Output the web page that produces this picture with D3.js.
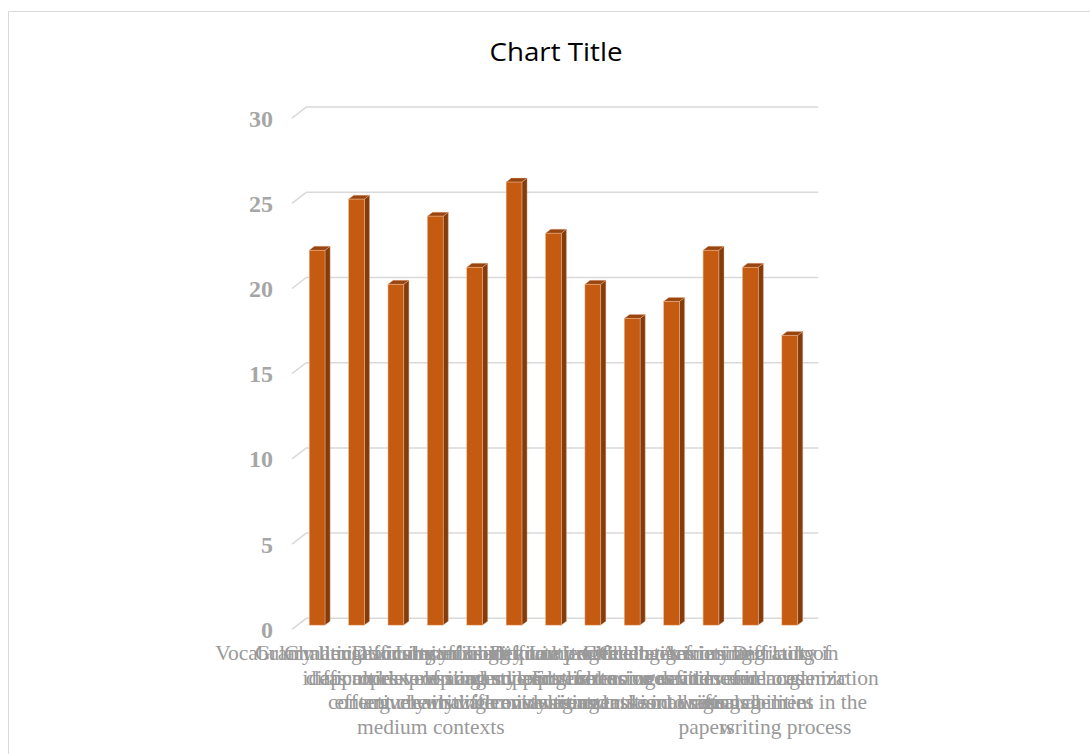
<!DOCTYPE html>
<html><head><meta charset="utf-8">
<script src="https://cdn.jsdelivr.net/npm/d3@7"></script>
<style>html,body{margin:0;padding:0;background:#fff;} svg{display:block;}</style>
</head><body>
<script>
// ---- data ----
const chartTitle = "Chart Title";
const categories = [
  "Vocabulary limitations",
  "Grammatical accuracy\ndifficulties",
  "Challenges in organizing\nideas and expressing\ncontent clearly",
  "Difficulty in using\nappropriate writing styles\neffectively in different\nmedium contexts",
  "Limited ability to\ndevelop and support\narguments with evidence",
  "Insufficient knowledge\nof academic English\nwriting conventions",
  "Inadequate practice\nand exposure to\nacademic writing tasks",
  "Difficulty with citation\nand referencing\nstyles and rules",
  "Limited feedback from\ninstructors on written\nassignments and drafts",
  "Challenges in using\ncohesive devices and\ntransitional signals",
  "Challenges in integrating\nsources and references\ninto research\npapers",
  "Anxiety and lack of\nconfidence in academic\nwriting abilities",
  "Difficulty in\ntime and organization\nmanagement in the\nwriting process"
];
const values = [22, 25, 20, 24, 21, 26, 23, 20, 18, 19, 22, 21, 17];
const yTicks = [0, 5, 10, 15, 20, 25, 30];

// ---- layout ----
const W = 1090, H = 754;
const svg = d3.select("body").append("svg").attr("width", W).attr("height", H);

svg.append("path").attr("d", "M8.5,754 V11.5 H1090")
  .attr("fill", "none").attr("stroke", "#d9d9d9").attr("stroke-width", 1);

svg.append("text").attr("x", 556).attr("y", 61)
  .attr("text-anchor", "middle")
  .attr("font-family", "'Open Sans', 'Noto Sans', sans-serif")
  .attr("font-size", 25.5).attr("fill", "#000")
  .attr("textLength", 133).attr("lengthAdjust", "spacingAndGlyphs")
  .text(chartTitle);

const DX = 14.3, DY = -11;
const x = d3.scaleBand().domain(d3.range(categories.length))
  .range([292, 804]).paddingInner(0.6).paddingOuter(0.3);
const y = d3.scaleLinear().domain([0, 30]).range([629.3, 118.1]);
const P = (xf, v, d) => [xf + d * DX, y(v) + d * DY];
const xL = x.range()[0], xR = x.range()[1];

// gridlines (side wall + back wall)
const grid = svg.append("g");
yTicks.forEach(t => {
  const pts = [P(xL, t, 0), P(xL, t, 1), P(xR, t, 1)];
  grid.append("path").attr("d", d3.line()(pts))
    .attr("fill", "none").attr("stroke", "#d9d9d9").attr("stroke-width", 1.5);
});

// y tick labels
svg.append("g").selectAll("text").data(yTicks).join("text")
  .attr("x", 273).attr("y", d => y(d)).attr("dy", "0.35em")
  .attr("text-anchor", "end")
  .attr("font-family", "'Liberation Serif', 'Times New Roman', serif")
  .attr("font-weight", "bold").attr("font-size", 24).attr("fill", "#a6a6a6")
  .text(d => d);

// bars
const d1 = 0.38, d2 = 0.74;
const bw = x.bandwidth();
const bars = svg.append("g");
values.forEach((v, i) => {
  const xf = x(i);
  const g = bars.append("g");
  const top = [P(xf, v, d1), P(xf + bw, v, d1), P(xf + bw, v, d2), P(xf, v, d2)];
  const side = [P(xf + bw, v, d1), P(xf + bw, v, d2), P(xf + bw, 0, d2), P(xf + bw, 0, d1)];
  g.append("path").attr("d", d3.line()(side) + "Z").attr("fill", "#843c0c")
    .attr("stroke", "#e9b08a").attr("stroke-width", 0.4);
  g.append("path").attr("d", d3.line()(top) + "Z").attr("fill", "#984510")
    .attr("stroke", "#e9b08a").attr("stroke-width", 0.4);
  const f = P(xf, v, d1);
  g.append("rect").attr("x", f[0]).attr("y", f[1]).attr("width", bw)
    .attr("height", y(0) - y(v)).attr("fill", "#c55a11")
    .attr("stroke", "#ecb38c").attr("stroke-width", 0.5);
});

// x labels
const lab = svg.append("g")
  .attr("font-family", "'Liberation Serif', 'Times New Roman', serif")
  .attr("font-size", 21.5).attr("fill", "#999999").attr("text-anchor", "middle");
categories.forEach((c, i) => {
  const cx = x(i) + bw / 2 + 1;
  const t = lab.append("text").attr("x", cx).attr("y", 660);
  c.split("\n").forEach((line, j) => {
    t.append("tspan").attr("x", cx).attr("y", 660 + j * 24.7).text(line);
  });
});
</script>
</body></html>
